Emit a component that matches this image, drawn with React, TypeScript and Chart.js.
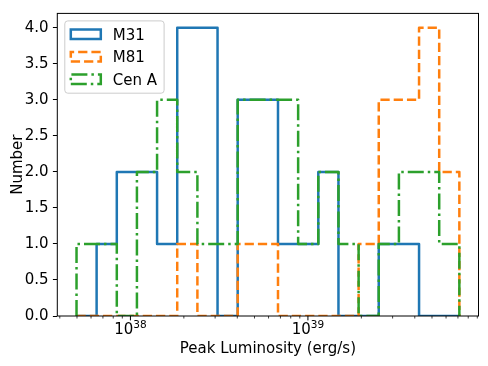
import React, { useEffect, useRef } from "react";
import { Chart, registerables } from "chart.js";

Chart.register(...registerables);

// Histogram bin edges (erg/s), log-spaced
const BIN_EDGES = [
  4.97e37, 6.45e37, 8.38e37, 1.088e38, 1.413e38, 1.835e38, 2.384e38, 3.096e38,
  4.021e38, 5.222e38, 6.782e38, 8.808e38, 1.144e39, 1.486e39, 1.93e39, 2.506e39,
  3.255e39, 4.227e39, 5.49e39, 7.13e39,
];
const M31_COUNTS = [0, 1, 2, 2, 1, 4, 4, 0, 3, 3, 1, 1, 2, 0, 0, 1, 1, 0, 0];
const M81_COUNTS = [0, 0, 0, 0, 0, 1, 0, 0, 1, 1, 0, 0, 0, 0, 1, 3, 3, 4, 2];
const CENA_COUNTS = [1, 1, 0, 2, 3, 2, 1, 1, 3, 3, 3, 1, 2, 1, 0, 1, 2, 2, 1];
const SERIES_NAMES = ["M31", "M81", "Cen A"];
const Y_TICKS = [0, 0.5, 1, 1.5, 2, 2.5, 3, 3.5, 4];
const X_MAJOR_EXPONENTS = [38, 39];
const X_MIN = 3.873e37;
const X_MAX = 9.14e39;
const Y_MAX = 4.2;
const X_LABEL = "Peak Luminosity (erg/s)";
const Y_LABEL = "Number";

function stepPoints(edges: number[], counts: number[]) {
  const pts: { x: number; y: number }[] = [{ x: edges[0], y: 0 }];
  for (let i = 0; i < counts.length; i++) {
    pts.push({ x: edges[i], y: counts[i] });
    pts.push({ x: edges[i + 1], y: counts[i] });
  }
  pts.push({ x: edges[edges.length - 1], y: 0 });
  return pts;
}

export default function App() {
  const ref = useRef<HTMLCanvasElement>(null);

  useEffect(() => {
    const canvas = ref.current!;
    const family = '"DejaVu Sans", sans-serif';
    const FS = 15;
    const LW = 2.5;
    const styles = [
      { color: "#1f77b4", dash: [] as number[] },
      { color: "#ff7f0e", dash: [9.25, 4] },
      { color: "#2ca02c", dash: [16, 4, 2.5, 4] },
    ];
    const allCounts = [M31_COUNTS, M81_COUNTS, CENA_COUNTS];
    const datasets = allCounts.map((c, i) => ({
      label: SERIES_NAMES[i],
      data: stepPoints(BIN_EDGES, c),
      showLine: true,
      borderColor: styles[i].color,
      backgroundColor: "transparent",
      borderWidth: LW,
      borderDash: styles[i].dash,
      borderJoinStyle: "round" as const,
      borderCapStyle: "butt" as const,
      pointRadius: 0,
      pointHoverRadius: 0,
      fill: false,
      tension: 0,
      order: 2 - i,
      clip: 0,
    }));

    const decor = {
      id: "mplDecor",
      afterDatasetsDraw(chart: any) {
        const ctx: CanvasRenderingContext2D = chart.ctx;
        const a = chart.chartArea;
        const xs = chart.scales.x;
        ctx.save();
        // spines
        ctx.strokeStyle = "#000";
        ctx.lineWidth = 1;
        ctx.strokeRect(a.left, a.top, a.right - a.left, a.bottom - a.top);
        // x ticks (major + minor)
        for (let e = 37; e <= 39; e++) {
          for (let k = 1; k <= 9; k++) {
            const v = k * Math.pow(10, e);
            if (v < X_MIN || v > X_MAX) continue;
            const px = xs.getPixelForValue(v);
            const major = k === 1;
            ctx.lineWidth = major ? 1 : 0.75;
            ctx.beginPath();
            ctx.moveTo(px, a.bottom);
            ctx.lineTo(px, a.bottom + (major ? 4.4 : 2.5));
            ctx.stroke();
          }
        }
        // x tick labels 10^n
        ctx.fillStyle = "#000";
        ctx.textBaseline = "alphabetic";
        ctx.textAlign = "left";
        for (const ex of X_MAJOR_EXPONENTS) {
          const px = xs.getPixelForValue(Math.pow(10, ex));
          ctx.font = `${FS}px ${family}`;
          const w1 = ctx.measureText("10").width;
          ctx.font = `${FS * 0.7}px ${family}`;
          const w2 = ctx.measureText(String(ex)).width;
          const start = px - (w1 + w2) / 2;
          ctx.font = `${FS}px ${family}`;
          ctx.fillText("10", start, a.bottom + 18);
          ctx.font = `${FS * 0.7}px ${family}`;
          ctx.fillText(String(ex), start + w1, a.bottom + 11.7);
        }
        // axis titles
        ctx.font = `${FS}px ${family}`;
        ctx.textAlign = "center";
        ctx.fillText(X_LABEL, (a.left + a.right) / 2, a.bottom + 37);
        ctx.save();
        ctx.translate(21.5, (a.top + a.bottom) / 2);
        ctx.rotate(-Math.PI / 2);
        ctx.fillText(Y_LABEL, 0, 0);
        ctx.restore();
        // legend
        const bx = a.left + 7.5, by = a.top + 7.5, bw = 99.3, bh = 72.3;
        ctx.beginPath();
        (ctx as any).roundRect(bx, by, bw, bh, 3);
        ctx.fillStyle = "rgba(255,255,255,0.8)";
        ctx.fill();
        ctx.strokeStyle = "#cccccc";
        ctx.lineWidth = 1;
        ctx.setLineDash([]);
        ctx.stroke();
        for (let i = 0; i < SERIES_NAMES.length; i++) {
          const cy = by + 13.3 + i * 22.5;
          const hx = bx + 6, hw = 30, hh = 9.6;
          ctx.beginPath();
          ctx.moveTo(hx, cy + hh / 2);
          ctx.lineTo(hx + hw, cy + hh / 2);
          ctx.lineTo(hx + hw, cy - hh / 2);
          ctx.lineTo(hx, cy - hh / 2);
          ctx.closePath();
          ctx.strokeStyle = styles[i].color;
          ctx.lineWidth = LW;
          ctx.lineJoin = "miter";
          ctx.setLineDash(styles[i].dash);
          ctx.stroke();
          ctx.setLineDash([]);
          ctx.fillStyle = "#000";
          ctx.font = `${FS}px ${family}`;
          ctx.textAlign = "left";
          ctx.fillText(SERIES_NAMES[i], hx + hw + 12, cy + 5.3);
        }
        ctx.restore();
      },
    };

    const chart = new Chart(canvas, {
      type: "scatter",
      data: { datasets: datasets as any },
      options: {
        responsive: false,
        devicePixelRatio: 1,
        animation: false,
        events: [],
        layout: { padding: { left: 0, top: 8.3, right: 9.5, bottom: 0 } },
        plugins: { legend: { display: false }, tooltip: { enabled: false } },
        scales: {
          x: {
            type: "logarithmic",
            min: X_MIN,
            max: X_MAX,
            ticks: { display: false },
            grid: { display: false },
            border: { display: false },
            afterFit: (s: any) => {
              s.height = 50;
            },
          },
          y: {
            type: "linear",
            min: 0,
            max: Y_MAX,
            afterBuildTicks: (s: any) => {
              s.ticks = Y_TICKS.map((v) => ({ value: v }));
            },
            ticks: {
              font: { family, size: FS },
              color: "#000",
              padding: 4.4,
              callback: (v: any) => Number(v).toFixed(1),
            },
            grid: {
              drawOnChartArea: false,
              tickLength: 4.4,
              tickWidth: 1,
              tickColor: "#000",
            },
            border: { display: false },
            afterFit: (s: any) => {
              s.width = 57.3;
            },
          },
        },
      } as any,
      plugins: [decor],
    });
    return () => chart.destroy();
  }, []);

  return (
    <div style={{ position: "absolute", left: 0, top: 0, width: 488, height: 366, background: "#fff" }}>
      <canvas ref={ref} width={488} height={366} style={{ width: 488, height: 366, display: "block" }} />
    </div>
  );
}
